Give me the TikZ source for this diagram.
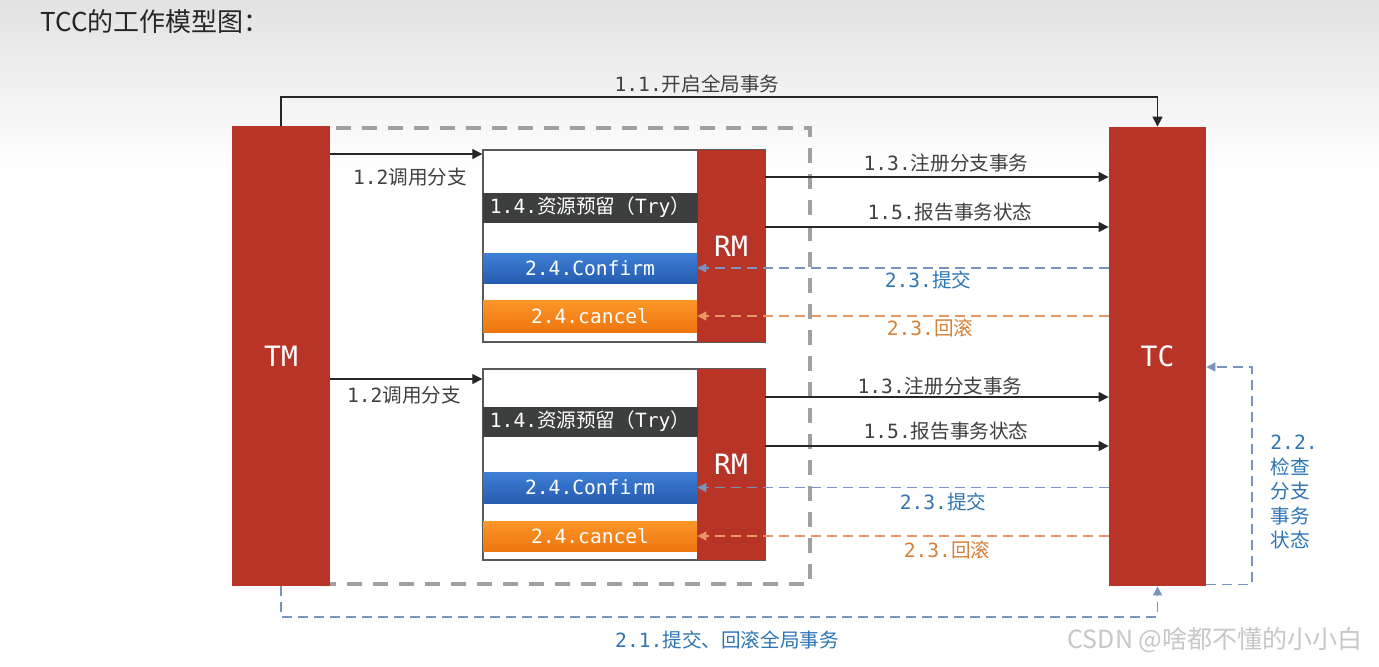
\documentclass[tikz,border=0pt]{standalone}
\usepackage{fontspec}
\setmainfont{DejaVu Sans Mono}
\newfontfamily\cjkf{Noto Sans CJK SC}
\newfontfamily\monof{DejaVu Sans Mono}
\usetikzlibrary{arrows.meta,calc}
\definecolor{tred}{RGB}{184,52,38}
\definecolor{tdark}{RGB}{60,63,62}
\definecolor{tblueT}{RGB}{62,128,214}
\definecolor{tblueB}{RGB}{38,92,176}
\definecolor{torangeT}{RGB}{252,150,40}
\definecolor{torangeB}{RGB}{238,118,14}
\definecolor{ttext}{RGB}{64,64,64}
\definecolor{tbluetext}{RGB}{46,117,182}
\definecolor{torgtext}{RGB}{214,128,56}
\definecolor{tblueline}{RGB}{120,148,190}
\definecolor{torgline}{RGB}{232,150,100}
\definecolor{tgraydash}{RGB}{160,160,160}
\definecolor{tbgtop}{RGB}{226,226,226}
\newcommand\zh[1]{{\cjkf #1}}
\begin{document}
\begin{tikzpicture}[x=0.5pt,y=-0.5pt,
  lbl/.style={font=\monof\fontsize{9.8}{12.25}\selectfont, inner sep=0},
  redbar/.style={fill=tred, draw=none, text=white, font=\monof\fontsize{14}{16}\selectfont, inner sep=0},
  branchbox/.style={fill=white, draw=black!65, line width=0.7pt, inner sep=0},
  inbox/.style={lbl, minimum width=107pt, text=white},
  trybox/.style={inbox, fill=tdark, draw=black!75, line width=0.5pt},
  confbox/.style={inbox, top color=tblueT, bottom color=tblueB, draw=none},
  cancbox/.style={inbox, top color=torangeT, bottom color=torangeB, draw=none},
  solidarrow/.style={draw=black!85, line width=0.6pt, -{Triangle[length=5pt,width=5pt]}},
  bluedash/.style={draw=tblueline, line width=0.55pt, dash pattern=on 5pt off 3pt, -{Triangle[length=4.5pt,width=4.5pt]}},
  orgdash/.style={draw=torgline, line width=0.55pt, dash pattern=on 5pt off 3pt, -{Triangle[length=4.5pt,width=4.5pt]}},
  framedash/.style={draw=tgraydash, line width=2pt, dash pattern=on 7.5pt off 5.5pt}
]
\useasboundingbox (0,0) rectangle (1379,666);
\fill[white] (0,0) rectangle (1379,666);
\shade[top color=tbgtop, bottom color=white] (0,0) rectangle (1379,170);

% title
\node[anchor=west, inner sep=0, text=black!85, font=\cjkf\fontsize{13}{15}\selectfont] (title) at (40,22) {TCC的工作模型图：};

% dashed frame
\draw[framedash] (232,128) -- (810,128) -- (810,584) -- (232,584);

% main bars
\node[redbar, minimum width=49pt, minimum height=230pt] (TM) at (281,356) {TM};
\node[redbar, minimum width=48.5pt, minimum height=229.5pt] (TC) at (1157.5,356.5) {TC};

% branch 1
\node[branchbox, minimum width=141pt, minimum height=96pt] (B1) at (624,246) {};
\node[redbar, minimum width=34pt, minimum height=96pt] (RM1) at (731,246) {RM};
\node[trybox, minimum height=14.5pt] (T1) at (590,207.5) {1.4.\zh{资源预留（}Try\zh{）}};
\node[confbox, minimum height=15pt] (C1) at (590,268) {2.4.Confirm};
\node[cancbox, minimum height=16pt] (X1) at (590,316) {2.4.cancel};

% branch 2
\node[branchbox, minimum width=141pt, minimum height=95.5pt] (B2) at (624,464.5) {};
\node[redbar, minimum width=34pt, minimum height=95.5pt] (RM2) at (731,464.5) {RM};
\node[trybox, minimum height=14.5pt] (T2) at (590,421.5) {1.4.\zh{资源预留（}Try\zh{）}};
\node[confbox, minimum height=15.5pt] (C2) at (590,487.5) {2.4.Confirm};
\node[cancbox, minimum height=15pt] (X2) at (590,536) {2.4.cancel};

% level coordinates
\coordinate (ytop) at (0,97);
\coordinate (y12a) at (0,154);
\coordinate (y12b) at (0,379);
\coordinate (y13a) at (0,177);
\coordinate (y15a) at (0,227);
\coordinate (y13b) at (0,397);
\coordinate (y15b) at (0,446);
\coordinate (b21) at (700,617);
\coordinate (r22) at (1252,367);

% 1.1
\draw[solidarrow] (TM.north) -- (TM.north |- ytop) -| (TC.north);
\node[lbl, text=ttext] (L11) at (697,84) {1.1.\zh{开启全局事务}};

% 1.2
\draw[solidarrow] (TM.east |- y12a) -- (B1.west |- y12a);
\node[lbl, text=ttext] (L12a) at (410,177) {1.2\zh{调用分支}};
\draw[solidarrow] (TM.east |- y12b) -- (B2.west |- y12b);
\node[lbl, text=ttext] (L12b) at (404,395) {1.2\zh{调用分支}};

% 1.3 / 1.5
\draw[solidarrow] (RM1.east |- y13a) -- (TC.west |- y13a);
\node[lbl, text=ttext] (L13a) at (946,163) {1.3.\zh{注册分支事务}};
\draw[solidarrow] (RM1.east |- y15a) -- (TC.west |- y15a);
\node[lbl, text=ttext] (L15a) at (950,212) {1.5.\zh{报告事务状态}};
\draw[solidarrow] (RM2.east |- y13b) -- (TC.west |- y13b);
\node[lbl, text=ttext] (L13b) at (940,386) {1.3.\zh{注册分支事务}};
\draw[solidarrow] (RM2.east |- y15b) -- (TC.west |- y15b);
\node[lbl, text=ttext] (L15b) at (946,431) {1.5.\zh{报告事务状态}};

% 2.3
\draw[bluedash] (TC.west |- C1.east) -- (C1.east);
\node[lbl, text=tbluetext] (L23ca) at (928,280) {2.3.\zh{提交}};
\draw[orgdash] (TC.west |- X1.east) -- (X1.east);
\node[lbl, text=torgtext] (L23ra) at (930,328) {2.3.\zh{回滚}};
\draw[bluedash] (TC.west |- C2.east) -- (C2.east);
\node[lbl, text=tbluetext] (L23cb) at (943,502) {2.3.\zh{提交}};
\draw[orgdash] (TC.west |- X2.east) -- (X2.east);
\node[lbl, text=torgtext] (L23rb) at (947,550) {2.3.\zh{回滚}};

% 2.2
\draw[bluedash] ([yshift=1pt]TC.south east) -| (r22) -- (TC.east |- r22);
\node[lbl, text=tbluetext, align=left, anchor=west] (L22) at (1270,492) {2.2.\\\zh{检查}\\\zh{分支}\\\zh{事务}\\\zh{状态}};

% 2.1
\draw[bluedash] (TM.south) |- (b21) -| (TC.south);
\node[lbl, text=tbluetext] (L21) at (727,640) {2.1.\zh{提交、回滚全局事务}};

% watermark
\node[inner sep=0, text=black!22, font=\cjkf\fontsize{12.5}{14}\selectfont] (wm) at (1215,640) {CSDN @啥都不懂的小小白};
\end{tikzpicture}
\end{document}
